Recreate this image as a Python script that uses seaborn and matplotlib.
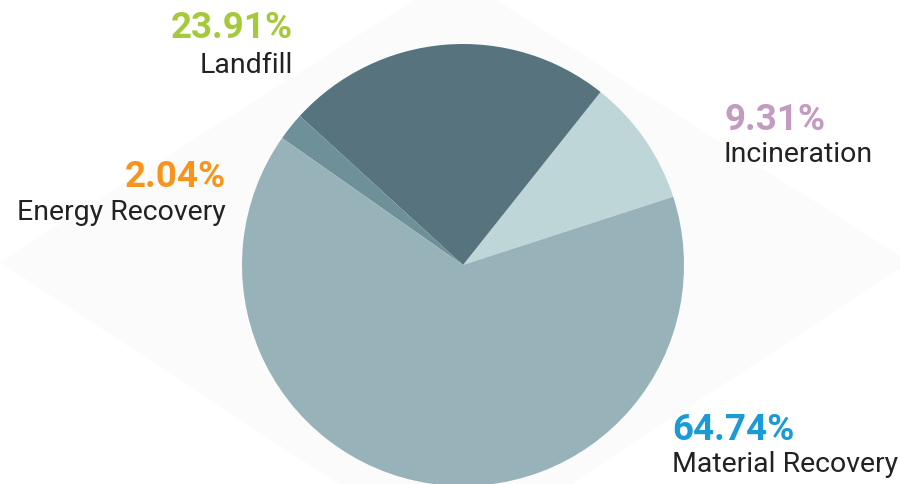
import matplotlib
matplotlib.use("Agg")
import matplotlib.pyplot as plt
from matplotlib.patches import Polygon
import seaborn as sns

# data
categories = ["Incineration", "Landfill", "Energy Recovery", "Material Recovery"]
shares = [9.31, 23.91, 2.04, 64.74]
slice_colors = ["#bfd6d8", "#56737e", "#6e9098", "#97b2b8"]
pct_colors = {"Incineration": "#c39bc0", "Landfill": "#a4c93a",
              "Energy Recovery": "#f7941d", "Material Recovery": "#1a9ad6"}

sns.set_theme(style="white")
plt.rcParams['font.family'] = ['Roboto', 'DejaVu Sans']

W, H = 900, 484
fig = plt.figure(figsize=(9, 4.84), dpi=100)
ax = fig.add_axes([0, 0, 1, 1])

# very faint background diamond
bg = Polygon([(0, H - 262), (430, H + 10), (480, H + 10), (910, H - 262),
              (480, -60), (430, -60)], closed=True, fc="#fbfbfb", ec="none", zorder=0)
ax.add_patch(bg)

ax.pie(shares, colors=slice_colors, startangle=18, counterclock=True,
       center=(463, H - 265), radius=221, frame=True,
       wedgeprops=dict(linewidth=0, zorder=2))
ax.set_xlim(0, W)
ax.set_ylim(0, H)
ax.set_aspect('equal')
ax.axis('off')

# labels: (x, baseline of pct, baseline of name, alignment)
label_pos = {
    "Landfill": (293, 38, 73, "right"),
    "Incineration": (724, 130, 162, "left"),
    "Energy Recovery": (226, 187, 220, "right"),
    "Material Recovery": (672, 440, 472, "left"),
}
for cat, val in zip(categories, shares):
    x, yp, yn, ha = label_pos[cat]
    ax.text(x, H - yp, f"{val:.2f}%", ha=ha, va="baseline", fontsize=26.5,
            fontweight="bold", color=pct_colors[cat], zorder=3)
    ax.text(x, H - yn, cat, ha=ha, va="baseline", fontsize=20.5,
            color="#222222", zorder=3)

fig.savefig("out.png", dpi=100)
